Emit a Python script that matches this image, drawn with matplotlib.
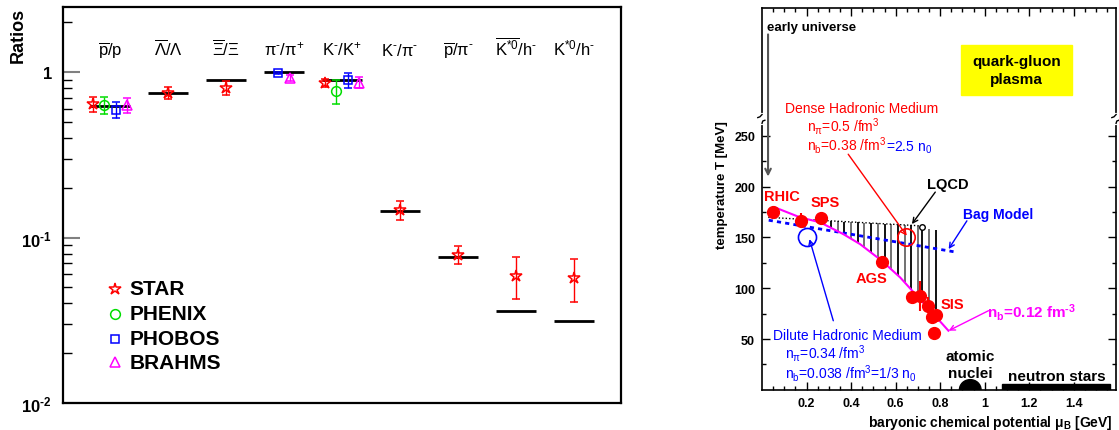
import numpy as np
import matplotlib
matplotlib.use("Agg")
import matplotlib.pyplot as plt
from matplotlib.patches import Rectangle, Ellipse
from matplotlib.ticker import NullFormatter, FixedLocator

plt.rcParams["font.family"] = ["Liberation Sans", "DejaVu Sans"]
plt.rcParams["mathtext.fontset"] = "custom"
plt.rcParams["mathtext.rm"] = "Liberation Sans"
plt.rcParams["mathtext.it"] = "Liberation Sans:italic"
plt.rcParams["mathtext.bf"] = "Liberation Sans:bold"
plt.rcParams["mathtext.default"] = "regular"

# --- particle ratios at RHIC (left panel) ---
ratio_labels = [r"$\overline{p}$/p", r"$\overline{\Lambda}/\Lambda$", r"$\overline{\Xi}/\Xi$",
                r"$\pi^{‐}/\pi^{+}$", r"$K^{‐}/K^{+}$", r"$K^{‐}/\pi^{‐}$",
                r"$\overline{p}/\pi^{‐}$", r"$\overline{K^{*0}}/h^{‐}$", r"$K^{*0}/h^{‐}$"]
model_ratio = [0.625, 0.746, 0.894, 1.0, 0.894, 0.144, 0.0767, 0.036, 0.0314]

star_cat = [0, 1, 2, 4, 5, 6, 7, 8]
star_val = [0.64, 0.753, 0.803, 0.866, 0.146, 0.078, 0.059, 0.057]
star_lo = [0.573, 0.693, 0.733, 0.819, 0.128, 0.0696, 0.0425, 0.0408]
star_hi = [0.706, 0.819, 0.882, 0.916, 0.167, 0.0886, 0.0764, 0.0743]

phenix_cat = [0, 4]
phenix_val = [0.637, 0.77]
phenix_lo = [0.556, 0.64]
phenix_hi = [0.709, 0.898]

phobos_cat = [0, 3, 4]
phobos_val = [0.591, 0.986, 0.898]
phobos_lo = [0.529, 0.97, 0.808]
phobos_hi = [0.661, 1.0, 0.986]

brahms_cat = [0, 3, 4]
brahms_val = [0.637, 0.929, 0.866]
brahms_lo = [0.564, 0.882, 0.808]
brahms_hi = [0.703, 0.968, 0.94]

# --- phase diagram (right panel) ---
fo_mu = [0.051, 0.174, 0.264, 0.538, 0.673, 0.71, 0.747, 0.763, 0.782, 0.773]
fo_T = [175.3, 165.8, 168.8, 125.5, 91.0, 92.0, 82.8, 71.4, 73.6, 55.9]
fo_T_lo = [175.3, 161.2, 168.8, 125.5, 91.0, 78.0, 76.5, 71.4, 70.0, 55.9]
fo_T_hi = [180.0, 174.3, 168.8, 125.5, 91.0, 107.0, 91.0, 71.4, 77.0, 55.9]

curve_mu = [0.058, 0.171, 0.261, 0.365, 0.44, 0.538, 0.62, 0.695, 0.77, 0.837]
curve_T = [179.6, 169.8, 164.9, 153.3, 143.5, 127.0, 110.7, 92.6, 74.6, 58.2]

lqcd_mu = [0.028, 0.71]
lqcd_T = [169.8, 161.5]
bag_mu = [0.03, 0.86]
bag_T = [167.0, 136.0]

hatch_mu = [0.28, 0.31, 0.34, 0.37, 0.40, 0.43, 0.46, 0.49, 0.52,
            0.55, 0.58, 0.61, 0.64, 0.67, 0.70, 0.72, 0.75, 0.78]
hatch_top = [166.7, 166.4, 166.0, 165.6, 165.3, 164.9, 164.5, 164.2, 163.8,
             163.4, 163.1, 162.7, 162.3, 162.0, 161.6, 160.0, 158.0, 157.0]
hatch_bot = [162.8, 159.4, 156.1, 152.6, 148.7, 144.8, 140.1, 134.9, 129.8,
             124.6, 118.9, 112.7, 105.9, 98.6, 91.4, 86.6, 79.4, 72.1]

fig = plt.figure(figsize=(11.19, 4.31), dpi=100)

# ================= left: ratios =================
ax1 = fig.add_axes([0.0563, 0.0626, 0.4987, 0.9188])
ax1.set_yscale("log")
ax1.set_xlim(-0.81, 8.81)
ax1.set_ylim(0.01, 2.48)
ax1.set_xticks([])
ax1.set_yticks([0.01, 0.1, 1], [r"$10^{‐2}$", r"$10^{‐1}$", "1"], fontweight="bold", fontsize=12)
ax1.yaxis.set_minor_locator(FixedLocator([m * 10.0 ** e for e in (-2, -1, 0) for m in range(2, 10)]))
ax1.yaxis.set_minor_formatter(NullFormatter())
ax1.tick_params(axis="y", which="major", direction="in", length=12, width=1.5, color="#808080", pad=8)
ax1.tick_params(axis="y", which="minor", direction="in", length=6.5, width=1)
for sp in ax1.spines.values():
    sp.set_linewidth(1.6)
ax1.set_ylabel("Ratios", fontsize=13, fontweight="bold", va="center")
ax1.yaxis.set_label_coords(-0.081, 0.932)

cats = np.arange(len(ratio_labels))
ax1.hlines(model_ratio, cats - 0.345, cats + 0.345, color="black", lw=2, zorder=2)
for i, lbl in enumerate(ratio_labels):
    ax1.text(i, 1.28, lbl, ha="center", va="baseline", fontsize=12)

experiments = [
    ("STAR", star_cat, star_val, star_lo, star_hi, "*", "red", 9),
    ("PHENIX", phenix_cat, phenix_val, phenix_lo, phenix_hi, "o", "#00dd00", 7),
    ("PHOBOS", phobos_cat, phobos_val, phobos_lo, phobos_hi, "s", "blue", 6),
    ("BRAHMS", brahms_cat, brahms_val, brahms_lo, brahms_hi, "^", "magenta", 7),
]
members = {}
for name, cat, *_ in experiments:
    for c in cat:
        members.setdefault(c, []).append(name)

for name, cat, val, lo, hi, marker, color, ms in experiments:
    xs = [c + (members[c].index(name) - (len(members[c]) - 1) / 2) * 0.2 for c in cat]
    v = np.array(val)
    yerr = [v - np.array(lo), np.array(hi) - v]
    ax1.errorbar(xs, v, yerr=yerr, fmt=marker, ms=ms, mfc="none", mec=color, mew=1.1,
                 ecolor=color, elinewidth=1, capsize=3, capthick=1, zorder=3)

# legend
leg_y = [0.0491, 0.0346, 0.0244, 0.0177]
for (name, cat, val, lo, hi, marker, color, ms), y in zip(experiments, leg_y):
    ax1.plot(0.086, y, marker, ms=ms, mfc="none", mec=color, mew=1.1)
    ax1.text(0.33, y, name, fontsize=15, fontweight="bold", va="center", ha="left")

# ================= right: phase diagram =================
ax2 = fig.add_axes([0.681, 0.0933, 0.3164, 0.8858])
ax2.set_xlim(0, 1.59)
ax2.set_ylim(0, 376)
ax2.set_xticks([0.2, 0.4, 0.6, 0.8, 1.0, 1.2, 1.4], ["0.2", "0.4", "0.6", "0.8", "1", "1.2", "1.4"],
               fontweight="bold", fontsize=9)
ax2.set_xticks(np.arange(0.05, 1.59, 0.05), minor=True)
ax2.set_yticks([50, 100, 150, 200, 250], ["50", "100", "150", "200", "250"], fontweight="bold", fontsize=9)
ax2.set_yticks([25, 75, 125, 175, 225], minor=True)
ax2.tick_params(which="both", direction="in", top=True, right=True, width=1)
ax2.tick_params(which="major", length=6, pad=5)
ax2.tick_params(which="minor", length=3)
for sp in ax2.spines.values():
    sp.set_linewidth(1.2)
ax2.set_xlabel(r"baryonic chemical potential $\mu_B$ [GeV]", fontsize=10, fontweight="bold", va="center")
ax2.xaxis.set_label_coords(0.644, -0.084)
ax2.set_ylabel("temperature T [MeV]", fontsize=9.5, fontweight="bold", va="center")
ax2.yaxis.set_label_coords(-0.112, 0.539)

# axis break on both sides
for xs in (0.0, 1.0):
    ax2.plot([xs, xs], [0.699, 0.72], color="white", lw=3, transform=ax2.transAxes, clip_on=False, zorder=5)
    ax2.plot([xs, xs - 0.006, xs - 0.012], [0.721, 0.715, 0.713], color="black", lw=1,
             transform=ax2.transAxes, clip_on=False, zorder=6)
    ax2.plot([xs + 0.008, xs + 0.002, xs], [0.706, 0.704, 0.698], color="black", lw=1,
             transform=ax2.transAxes, clip_on=False, zorder=6)

ax2.add_patch(Rectangle((0.894, 290), 0.499, 50, color="#ffff00", zorder=0))
ax2.text(1.144, 315, "quark-gluon\nplasma", ha="center", va="center", fontsize=11,
         fontweight="bold", linespacing=1.4)

ax2.text(0.022, 357, "early universe", fontsize=9.5, fontweight="bold", va="center")
ax2.annotate("", xy=(0.027, 210), xytext=(0.027, 350),
             arrowprops=dict(arrowstyle="->", color="#555555", lw=1.5, shrinkA=0, shrinkB=0))

hatch_colors = ["black" if k % 2 else "#666666" for k in range(len(hatch_mu))]
ax2.vlines(hatch_mu, hatch_bot, hatch_top, colors=hatch_colors, lw=1.3, zorder=2)
ax2.plot(lqcd_mu, lqcd_T, color="black", ls=(0, (1, 1.5)), lw=1, zorder=2)
ax2.plot(bag_mu, bag_T, color="blue", ls=(0, (1.5, 1.5)), lw=2, zorder=3)
ax2.plot(curve_mu, curve_T, color="magenta", lw=1.5, zorder=3)

fo_T_arr = np.array(fo_T)
ax2.errorbar(fo_mu, fo_T_arr, yerr=[fo_T_arr - np.array(fo_T_lo), np.array(fo_T_hi) - fo_T_arr],
             fmt="o", color="red", ms=8.5, elinewidth=1.5, capsize=0, zorder=4)

ax2.plot(0.2, 150, "o", mfc="none", mec="blue", ms=13, mew=1.2, zorder=4)
ax2.plot(0.645, 150.5, "o", mfc="none", mec="red", ms=12.5, mew=1.2, zorder=4)
ax2.plot(0.718, 160, "o", mfc="white", mec="black", ms=4, mew=1, zorder=4)

ax2.text(0.088, 190.4, "RHIC", color="red", fontsize=10.5, fontweight="bold", ha="center", va="center")
ax2.text(0.283, 184.5, "SPS", color="red", fontsize=10.5, fontweight="bold", ha="center", va="center")
ax2.text(0.493, 109.7, "AGS", color="red", fontsize=10.5, fontweight="bold", ha="center", va="center")
ax2.text(0.853, 84.4, "SIS", color="red", fontsize=10.5, fontweight="bold", ha="center", va="center")
ax2.text(0.836, 202.5, "LQCD", color="black", fontsize=10.5, fontweight="bold", ha="center", va="center")
ax2.text(1.058, 173, "Bag Model", color="blue", fontsize=10, fontweight="bold", ha="center", va="center")

ax2.text(0.103, 274, "Dense Hadronic Medium", color="red", fontsize=10)
ax2.text(0.201, 255.7, r"$n_{\pi}$=0.5 /fm$^{3}$", color="red", fontsize=10)
t = ax2.text(0.201, 237, r"$n_{b}$=0.38 /fm$^{3}$", color="red", fontsize=10)
ax2.annotate(r"=2.5 $n_{0}$", xy=(1, 0), xycoords=t, va="bottom", ha="left", color="blue", fontsize=10)

ax2.text(0.049, 50, "Dilute Hadronic Medium", color="blue", fontsize=10)
ax2.text(0.103, 32, r"$n_{\pi}$=0.34 /fm$^{3}$", color="blue", fontsize=10)
ax2.text(0.103, 12.3, r"$n_{b}$=0.038 /fm$^{3}$=1/3 $n_{0}$", color="blue", fontsize=10)

ax2.text(1.01, 72, r"$n_{b}$=0.12 fm$^{‐3}$", color="magenta", fontsize=11, fontweight="bold")

arrows = [
    ((0.387, 232), (0.65, 151.7), "red"),
    ((0.778, 194.7), (0.673, 163.2), "black"),
    ((0.92, 166.4), (0.838, 138.6), "blue"),
    ((0.32, 68), (0.213, 148.4), "blue"),
    ((1.017, 77.9), (0.838, 58.2), "magenta"),
]
for start, end, color in arrows:
    ax2.annotate("", xy=end, xytext=start,
                 arrowprops=dict(arrowstyle="->", color=color, lw=1, shrinkA=0, shrinkB=0, mutation_scale=9))

ax2.text(0.935, 25, "atomic\nnuclei", ha="center", va="center", fontsize=11, fontweight="bold", linespacing=1.2)
ax2.add_patch(Ellipse((0.935, 0), 0.097, 20, color="black", zorder=4))
ax2.add_patch(Rectangle((1.078, 0), 0.484, 5.5, color="black", zorder=4))
ax2.text(1.324, 13.3, "neutron stars", ha="center", va="center", fontsize=11, fontweight="bold")

fig.savefig("out.png", dpi=100)
